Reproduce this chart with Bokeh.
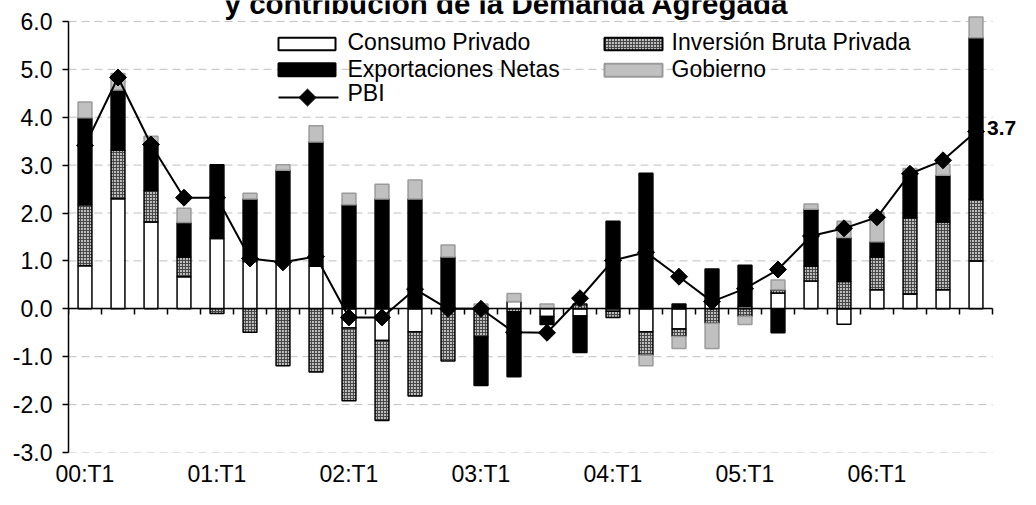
import numpy as np
from bokeh.plotting import figure
from bokeh.models import (FixedTicker, PrintfTickFormatter, LinearAxis, Range1d,
                          BoxAnnotation, Label, PolyAnnotation, ColumnDataSource)
from bokeh.embed import file_html
from bokeh.resources import INLINE

# ---------------- data ----------------
quarters = ["00:T1", "00:T2", "00:T3", "00:T4", "01:T1", "01:T2", "01:T3", "01:T4",
            "02:T1", "02:T2", "02:T3", "02:T4", "03:T1", "03:T2", "03:T3", "03:T4",
            "04:T1", "04:T2", "04:T3", "04:T4", "05:T1", "05:T2", "05:T3", "05:T4",
            "06:T1", "06:T2", "06:T3", "06:T4"]
consumo = [0.90, 2.30, 1.81, 0.67, 1.47, 0.99, 0.98, 0.89, -0.40, -0.66, -0.48, 0.00, 0.00, 0.15,
           -0.16, -0.15, -0.05, -0.48, -0.42, 0.13, 0.05, 0.33, 0.58, -0.32, 0.40, 0.31, 0.40, 1.00]
inversion = [1.27, 1.01, 0.66, 0.41, -0.10, -0.49, -1.19, -1.32, -1.52, -1.67, -1.34, -1.09, -0.59, -0.06,
             0.00, 0.10, -0.13, -0.49, -0.16, -0.30, -0.16, 0.07, 0.31, 0.57, 0.68, 1.59, 1.41, 1.28]
exportaciones = [1.82, 1.26, 0.94, 0.72, 1.54, 1.30, 1.91, 2.59, 2.17, 2.29, 2.29, 1.08, -1.01, -1.36,
                 -0.17, -0.76, 1.83, 2.83, 0.10, 0.70, 0.86, -0.50, 1.19, 0.92, 0.32, 0.89, 0.98, 3.38]
gobierno = [0.33, 0.34, 0.19, 0.30, 0.00, 0.12, 0.12, 0.34, 0.24, 0.31, 0.40, 0.25, 0.10, 0.17,
            0.10, 0.00, 0.00, -0.22, -0.25, -0.53, -0.17, 0.20, 0.11, 0.34, 0.61, 0.14, 0.23, 0.43]
pbi = [3.41, 4.83, 3.43, 2.32, 2.32, 1.05, 0.97, 1.09, -0.18, -0.18, 0.41, 0.00, 0.00, -0.49,
       -0.50, 0.22, 1.01, 1.18, 0.67, 0.15, 0.42, 0.82, 1.52, 1.68, 1.91, 2.82, 3.10, 3.70]
y_ticks = [-3, -2, -1, 0, 1, 2, 3, 4, 5, 6]
title_text = "y contribución de la Demanda Agregada"

FONT = "Liberation Sans"
n = len(quarters)
x = np.arange(n)

# ---------------- geometry (canvas px) ----------------
W, H = 1020, 489
FL = 68                       # frame left
UX = 33.0                     # px per category
Y6_PX, YM3_PX = 21, 454       # pixel rows of 6.0 and -3.0
UY = (YM3_PX - Y6_PX) / 9.0
Y0 = -3.0
Y1 = 6.0 + Y6_PX / UY         # frame reaches the canvas top
X0 = -0.5
X1 = -0.5 + (W - FL) / UX     # frame reaches the canvas right edge

p = figure(width=W, height=H, x_range=Range1d(X0, X1), y_range=Range1d(Y0, Y1),
           output_backend="svg", toolbar_location=None,
           min_border_left=FL, min_border_right=0, min_border_top=0,
           min_border_bottom=H - YM3_PX)
p.outline_line_color = None
p.background_fill_color = "white"
p.border_fill_color = "white"

def dx(px):
    return X0 + (px - FL) / UX

def dy(py):
    return Y1 - py / UY

# ---------------- grid (dashed, only over the category span) ----------------
p.xgrid.visible = False
p.ygrid.visible = False
p.segment(x0=[X0] * len(y_ticks), y0=y_ticks, x1=[n - 0.5] * len(y_ticks), y1=y_ticks,
          line_color="#c0c0c0", line_dash="8 5", line_width=1)

# y axis
ya = p.yaxis[0]
ya.ticker = FixedTicker(ticks=y_ticks)
ya.formatter = PrintfTickFormatter(format="%.1f")
ya.bounds = (-3, 6)
ya.axis_line_color = "black"
ya.axis_line_width = 1.5
ya.major_tick_out = 6
ya.major_tick_in = 0
ya.major_tick_line_width = 1.5
ya.minor_tick_line_color = None
ya.major_label_text_font = FONT
ya.major_label_text_font_size = "23px"
ya.major_label_text_color = "black"
ya.major_label_standoff = 10

# x axis at zero with ticks at category boundaries
xa = p.xaxis[0]
xa.fixed_location = 0
xa.bounds = (-0.5, n - 0.5)
xa.ticker = FixedTicker(ticks=[i - 0.5 for i in range(n + 1)])
xa.axis_line_color = "black"
xa.axis_line_width = 1.5
xa.major_tick_out = 6
xa.major_tick_in = 0
xa.major_tick_line_width = 1.5
xa.minor_tick_line_color = None
xa.major_label_text_font_size = "0px"
xa.major_label_text_color = None

# category labels along the bottom
label_idx = list(range(0, n, 4))
la = LinearAxis(ticker=FixedTicker(ticks=label_idx),
                major_label_overrides={i: quarters[i] for i in label_idx})
la.axis_line_color = None
la.major_tick_line_color = None
la.minor_tick_line_color = None
la.major_tick_out = 0
la.major_tick_in = 0
la.major_label_standoff = 8
la.major_label_text_font = FONT
la.major_label_text_font_size = "23px"
la.major_label_text_color = "black"
p.add_layout(la, "below")

# ---------------- stacked bars ----------------
styles = {
    "Consumo Privado": dict(fill_color="white", line_color="black", line_width=1.5),
    "Inversión Bruta Privada": dict(fill_color="#c0c0c0", line_color="black", line_width=1.5,
                                    hatch_pattern="+", hatch_color="#484848", hatch_scale=3,
                                    hatch_weight=1.1),
    "Exportaciones Netas": dict(fill_color="black", line_color="black", line_width=1.5),
    "Gobierno": dict(fill_color="#c0c0c0", line_color="#9a9a9a", line_width=1.5),
}
series = [("Consumo Privado", consumo), ("Inversión Bruta Privada", inversion),
          ("Exportaciones Netas", exportaciones), ("Gobierno", gobierno)]

pos = np.zeros(n)
neg = np.zeros(n)
BW = 0.42
for name, vals in series:
    v = np.array(vals, dtype=float)
    bottom = np.where(v >= 0, pos, neg + v)
    top = np.where(v >= 0, pos + v, neg)
    pos = np.where(v >= 0, pos + v, pos)
    neg = np.where(v < 0, neg + v, neg)
    m = v != 0
    src = ColumnDataSource(dict(x=x[m], top=top[m], bottom=bottom[m]))
    p.vbar(x="x", top="top", bottom="bottom", width=BW, source=src, **styles[name])

# ---------------- PBI line ----------------
p.line(x, pbi, line_color="black", line_width=2)
p.scatter(x, pbi, marker="square", angle=np.pi / 4, size=12,
          fill_color="black", line_color="black")

p.add_layout(Label(x=x[-1], y=pbi[-1], text=f"{pbi[-1]:.1f}", x_offset=11, y_offset=4,
                   text_baseline="middle", text_align="left", text_font=FONT,
                   text_font_style="bold", text_font_size="21px", text_color="black"))

# ---------------- title (cut at top as in the reference) ----------------
p.add_layout(Label(x=dx(506), y=dy(3.1), text=title_text, text_align="center",
                   text_baseline="middle", text_font=FONT, text_font_style="bold",
                   text_font_size="29.5px", text_color="black"))

# ---------------- legend ----------------
def legend_box(x0, x1, y0, y1, name):
    st = dict(styles[name])
    kw = dict(left=dx(x0), right=dx(x1), top=dy(y0), bottom=dy(y1),
              fill_color=st.get("fill_color"), fill_alpha=1.0,
              line_color=st.get("line_color"), line_alpha=1.0, line_width=2)
    if "hatch_pattern" in st:
        kw.update(hatch_pattern=st["hatch_pattern"], hatch_color=st["hatch_color"],
                  hatch_scale=st["hatch_scale"], hatch_weight=st["hatch_weight"], hatch_alpha=1.0)
    p.add_layout(BoxAnnotation(**kw))

def legend_text(px, py_mid, text):
    p.add_layout(Label(x=dx(px), y=dy(py_mid), text=text, text_align="left",
                       text_baseline="middle", text_font=FONT,
                       text_font_size="23px", text_color="black"))

legend_box(278, 335, 37.5, 50, "Consumo Privado")
legend_text(347, 41.7, "Consumo Privado")
legend_box(278, 335, 63, 76, "Exportaciones Netas")
legend_text(347, 68.6, "Exportaciones Netas")
legend_box(604, 662, 37.5, 50, "Inversión Bruta Privada")
legend_text(671, 41.7, "Inversión Bruta Privada")
legend_box(604, 662, 63.5, 76.5, "Gobierno")
legend_text(671, 68.4, "Gobierno")

# PBI legend: line + diamond
ly = 97.5
p.add_layout(PolyAnnotation(xs=[dx(278), dx(338), dx(338), dx(278)], ys=[dy(ly)] * 4,
                            fill_alpha=0, line_color="black", line_alpha=1.0, line_width=2))
cx, r = 307, 8.5
p.add_layout(PolyAnnotation(xs=[dx(cx - r), dx(cx), dx(cx + r), dx(cx)],
                            ys=[dy(ly), dy(ly - r), dy(ly), dy(ly + r)],
                            fill_color="black", fill_alpha=1.0, line_color="black", line_alpha=1.0))
legend_text(347, 93, "PBI")

open("out.html", "w").write(file_html(p, INLINE))
